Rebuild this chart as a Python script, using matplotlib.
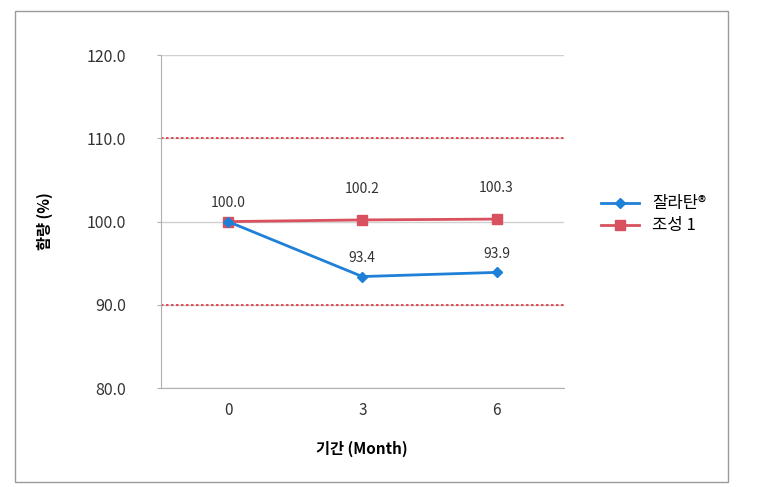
import matplotlib
matplotlib.use('Agg')
import matplotlib.pyplot as plt
from matplotlib.patches import Rectangle

plt.rcParams['font.family'] = ['Noto Sans CJK KR', 'DejaVu Sans']

# data
months = ['0', '3', '6']
zalatan = [100.0, 93.4, 93.9]
comp1 = [100.0, 100.2, 100.3]
series_names = ['잘라탄®', '조성 1']
limits = [110.0, 90.0]

blue = '#1f80d8'
red = '#d9505e'

fig = plt.figure(figsize=(7.7, 4.87), dpi=100)
ax = fig.add_axes([0.209, 0.203, 0.523, 0.684])

# outer chart border
fig.patches.append(Rectangle((0.0195, 0.0103), 0.9255, 0.9667, transform=fig.transFigure,
                             fill=False, edgecolor='#9a9a9a', linewidth=1.0))

x = list(range(len(months)))
ax.plot(x, zalatan, color=blue, marker='D', markersize=5, linewidth=2, label=series_names[0], zorder=4)
ax.plot(x, comp1, color=red, marker='s', markersize=7, linewidth=2, label=series_names[1], zorder=3)

# the first point is shared, only one label there
ax.annotate('%.1f' % comp1[0], (0, comp1[0]), xytext=(0, 8), textcoords='offset points',
            ha='center', va='bottom', fontsize=10, color='#333333')
for i in x[1:]:
    ax.annotate('%.1f' % zalatan[i], (i, zalatan[i]), xytext=(0, 8), textcoords='offset points',
                ha='center', va='bottom', fontsize=10, color='#333333')
    ax.annotate('%.1f' % comp1[i], (i, comp1[i]), xytext=(0, 17), textcoords='offset points',
                ha='center', va='bottom', fontsize=10, color='#333333')

for lim in limits:
    ax.axhline(lim, color='#e0303a', linestyle=(0, (1.5, 1.5)), linewidth=1.2, zorder=2)

ax.set_xlim(-0.5, 2.5)
ax.set_ylim(80, 120)
ax.set_yticks([80, 90, 100, 110, 120])
ax.set_yticklabels(['%.1f' % v for v in [80, 90, 100, 110, 120]], fontsize=11.5)
ax.set_xticks(x)
ax.set_xticklabels(months, fontsize=11)
ax.yaxis.grid(True, color='#d0d0d0', linewidth=1)
ax.set_axisbelow(True)

for s in ['top', 'right']:
    ax.spines[s].set_visible(False)
ax.spines['left'].set_color('#b0b0b0')
ax.spines['bottom'].set_color('#b0b0b0')
ax.tick_params(axis='y', colors='#b0b0b0', labelcolor='#333333', length=3, pad=22)
ax.tick_params(axis='x', length=0, labelcolor='#333333', pad=10)

ax.set_ylabel('함량 (%)', fontsize=11, fontweight='bold', labelpad=24)
ax.set_xlabel('기간 (Month)', fontsize=11, fontweight='bold', labelpad=16)

ax.legend(loc='center left', bbox_to_anchor=(1.055, 0.52), frameon=False, fontsize=12,
          handlelength=2.3, labelspacing=0.3)

fig.savefig('out.png', dpi=100)
